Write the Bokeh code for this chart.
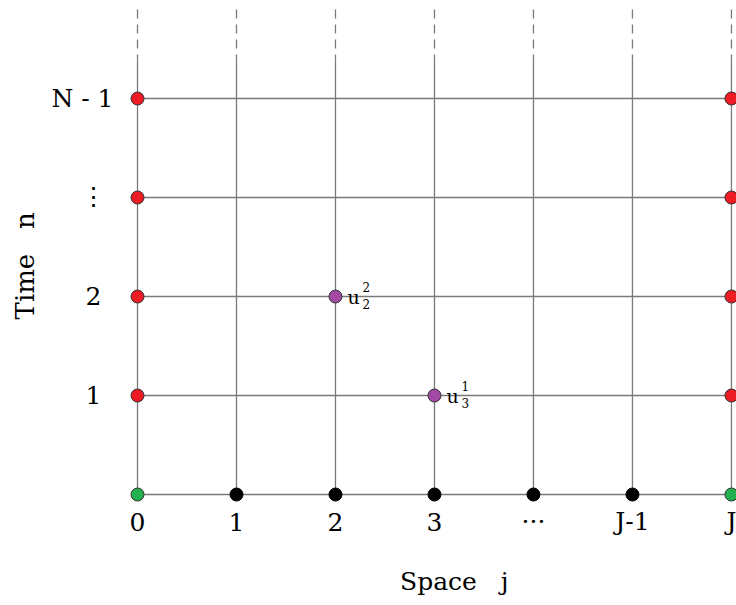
from bokeh.plotting import figure
from bokeh.models import Range1d
from bokeh.core.properties import value
from bokeh.embed import file_html
from bokeh.resources import INLINE
import math

# ---- data ----
j_ticks = [0, 1, 2, 3, 4, 5, 6]
j_labels = ["0", "1", "2", "3", "\u00b7\u00b7\u00b7", "J-1", "J"]
n_ticks = [1, 2, 3]
n_labels = ["1", "2", "\u22ee"]
n_top_tick = [4]
n_top_label = ["N - 1"]
grid_rows = [0, 1, 2, 3, 4]

boundary_x = [0, 0, 0, 0, 6, 6, 6, 6]
boundary_y = [1, 2, 3, 4, 1, 2, 3, 4]
initial_x = [0, 6]
initial_y = [0, 0]
interior_x = [1, 2, 3, 4, 5]
interior_y = [0, 0, 0, 0, 0]
u_x = [2, 3]
u_y = [2, 1]
u_sup = ["2", "1"]
u_sub = ["2", "3"]

x_title = ["Space\u00a0\u00a0\u00a0j"]
y_title = ["Time\u00a0\u00a0\u00a0n"]

FONT = value("DejaVu Serif")
GRID = "#7a7a7a"

p = figure(width=736, height=605, output_backend="svg", toolbar_location=None,
           x_range=Range1d(-1.384, 6.051), y_range=Range1d(-1.121, 4.990),
           x_axis_type=None, y_axis_type=None, min_border=0)
p.grid.visible = False
p.outline_line_color = None
p.background_fill_color = "white"
p.border_fill_color = "white"

top_solid = 4.384
top_dash = 4.90

# horizontal lines
p.segment(x0=[0] * len(grid_rows), y0=grid_rows, x1=[6] * len(grid_rows), y1=grid_rows,
          line_color=GRID, line_width=1.3)
# vertical solid lines
p.segment(x0=j_ticks, y0=[0] * len(j_ticks), x1=j_ticks, y1=[top_solid] * len(j_ticks),
          line_color=GRID, line_width=1.3)
# vertical dashed continuations
p.segment(x0=j_ticks, y0=[top_dash] * len(j_ticks), x1=j_ticks, y1=[top_solid] * len(j_ticks),
          line_color=GRID, line_width=1.3, line_dash="9 6")

# points
p.scatter(boundary_x, boundary_y, size=13, fill_color="#ed1c24", line_color="#333333", line_width=1)
p.scatter(initial_x, initial_y, size=13, fill_color="#22b14c", line_color="#333333", line_width=1)
p.scatter(interior_x, interior_y, size=13, fill_color="#000000", line_color="#000000", line_width=1)
p.scatter(u_x, u_y, size=13, fill_color="#a349a4", line_color="#333333", line_width=1)

# u labels
p.text(x=u_x, y=u_y, text=["u", "u"], x_offset=12, y_offset=0, text_font=FONT,
       text_font_size="19px", text_align="left", text_baseline="alphabetic", text_color="black")
p.text(x=u_x, y=u_y, text=u_sup, x_offset=27, y_offset=-10, text_font=FONT,
       text_font_size="12px", text_align="left", text_baseline="alphabetic", text_color="black")
p.text(x=u_x, y=u_y, text=u_sub, x_offset=27, y_offset=7, text_font=FONT,
       text_font_size="12px", text_align="left", text_baseline="alphabetic", text_color="black")

# x tick labels
p.text(x=j_ticks, y=[0] * len(j_ticks), text=j_labels, y_offset=27, text_font=FONT,
       text_font_size="25px", text_align="center", text_baseline="alphabetic", text_color="black")
# y tick labels
p.text(x=[0] * len(n_ticks), y=n_ticks, text=n_labels, x_offset=-44, y_offset=-1, text_font=FONT,
       text_font_size="25px", text_align="center", text_baseline="alphabetic", text_color="black")
p.text(x=[0], y=n_top_tick, text=n_top_label, x_offset=-24, y_offset=0, text_font=FONT,
       text_font_size="25px", text_align="right", text_baseline="alphabetic", text_color="black")

# axis titles
p.text(x=[3.2], y=[0], text=x_title, y_offset=87, text_font=FONT,
       text_font_size="25px", text_align="center", text_baseline="alphabetic", text_color="black")
p.text(x=[-1.14], y=[2.31], text=y_title, angle=math.pi / 2, text_font=FONT,
       text_font_size="26px", text_align="center", text_baseline="middle", text_color="black")

open("out.html", "w").write(file_html(p, INLINE))
